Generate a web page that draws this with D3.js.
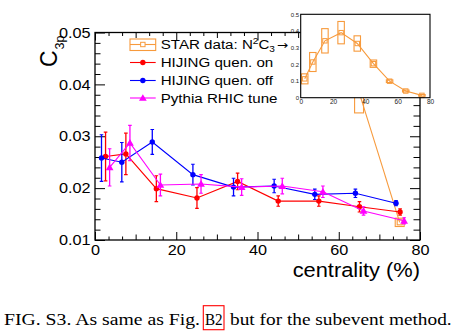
<!DOCTYPE html>
<html>
<head>
<meta charset="utf-8">
<title>C3p vs centrality, subevent method</title>
<style>
    body { margin: 0; background: #fff; }
    svg text { font-family: "Liberation Sans", Arial, Helvetica, sans-serif; }
</style>
</head>
<body>
<div id="chart"></div>
<script src="https://d3js.org/d3.v7.min.js"></script>
<script>
// centrality bins (%)
var centrality = [2.5, 7.5, 15, 25, 35, 45, 55, 65, 75];

// model C3p values and their errors
var hijingOn      = [0.0261, 0.0266, 0.0199, 0.0181, 0.0213, 0.0175, 0.0175, 0.0164, 0.0154];
var hijingOnErr   = [0.0047, 0.0040, 0.0025, 0.0020, 0.0016, 0.0010, 0.0010, 0.0010, 0.0006];
var hijingOff     = [0.0258, 0.0250, 0.0289, 0.0226, 0.0202, 0.0204, 0.0188, 0.0190, 0.0171];
var hijingOffErr  = [0.0045, 0.0038, 0.0024, 0.0020, 0.0017, 0.0013, 0.0010, 0.0008, 0.0005];
var pythia        = [0.0240, 0.0287, 0.0206, 0.0208, 0.0202, 0.0204, 0.0193, 0.0156, 0.0137];
var pythiaErr     = [0.0036, 0.0034, 0.0021, 0.0018, 0.0016, 0.0015, 0.0011, 0.0008, 0.0006];

// STAR N^2 C3 (inset)
var starN2C3      = [0.113, 0.214, 0.341, 0.390, 0.325, 0.204, 0.099, 0.040, 0.014];
var starN2C3Err   = [0.030, 0.057, 0.073, 0.067, 0.046, 0.022, 0.008, 0.006, 0.005];

// STAR C3p: only the peripheral bins fall inside the main y range
var starCent      = [65, 75];
var starC3        = [0.0385, 0.0134];
var starC3Err     = [0.0040, 0.0008];

var xTicks = [0, 20, 40, 60, 80];
var yTicks = [0.01, 0.02, 0.03, 0.04, 0.05];
var insetXTicks = [0, 20, 40, 60, 80];
var insetYTicks = [0, 0.1, 0.2, 0.3, 0.4, 0.5];

var W = 459, H = 331;
var sx = 1.12;               // text is a bit wide in this figure
var orange = "#f79a3c";

var svg = d3.select("#chart").append("svg")
    .attr("width", W).attr("height", H);
svg.append("rect").attr("width", W).attr("height", H).attr("fill", "#fff");

var x = d3.scaleLinear().domain([0, 80]).range([95, 420]);
var y = d3.scaleLinear().domain([0.01, 0.05]).range([240, 32.5]);

svg.append("clipPath").attr("id", "plotClip")
    .append("rect").attr("x", 95).attr("y", 32.5).attr("width", 325).attr("height", 207.5);

// ---- axes ----
function styleAxis(g, fs) {
    g.select(".domain").remove();
    g.attr("font-family", "Liberation Sans, Arial, sans-serif").attr("font-size", fs);
    g.selectAll(".tick line").attr("stroke", "#000").attr("stroke-width", 1);
    g.selectAll(".tick text").attr("fill", "#000").attr("transform", "scale(" + sx + ",1)");
}

var xMinor = [], xMid = [];
for (var i = 1; i < 24; i++) {
    if (i % 6 === 0) continue;
    (i % 3 === 0 ? xMid : xMinor).push(i * 20 / 6);
}
var yMinor = [];
for (var j = 1; j < 20; j++) { if (j % 5 !== 0) yMinor.push(0.01 + j * 0.002); }

var axes = svg.append("g");
axes.append("g").attr("transform", "translate(0,240)")
    .call(d3.axisBottom(x).tickValues(xTicks).tickSize(-8).tickPadding(5).tickFormat(d3.format("d")))
    .call(styleAxis, 14.5);
axes.append("g").attr("transform", "translate(0,240)")
    .call(d3.axisBottom(x).tickValues(xMid).tickSize(-5.5).tickFormat(""))
    .call(styleAxis, 14.5);
axes.append("g").attr("transform", "translate(0,240)")
    .call(d3.axisBottom(x).tickValues(xMinor).tickSize(-3.5).tickFormat(""))
    .call(styleAxis, 14.5);
axes.append("g").attr("transform", "translate(0,32.5)")
    .call(d3.axisTop(x).tickValues(xTicks).tickSize(-8).tickFormat(""))
    .call(styleAxis, 14.5);
axes.append("g").attr("transform", "translate(0,32.5)")
    .call(d3.axisTop(x).tickValues(xMid).tickSize(-5.5).tickFormat(""))
    .call(styleAxis, 14.5);
axes.append("g").attr("transform", "translate(0,32.5)")
    .call(d3.axisTop(x).tickValues(xMinor).tickSize(-3.5).tickFormat(""))
    .call(styleAxis, 14.5);

axes.append("g").attr("transform", "translate(95,0)")
    .call(d3.axisLeft(y).tickValues(yTicks).tickSize(-10).tickPadding(4).tickFormat(d3.format(".2f")))
    .call(styleAxis, 14.5);
axes.append("g").attr("transform", "translate(95,0)")
    .call(d3.axisLeft(y).tickValues(yMinor).tickSize(-5.5).tickFormat(""))
    .call(styleAxis, 14.5);
axes.append("g").attr("transform", "translate(420,0)")
    .call(d3.axisRight(y).tickValues(yTicks).tickSize(-10).tickFormat(""))
    .call(styleAxis, 14.5);
axes.append("g").attr("transform", "translate(420,0)")
    .call(d3.axisRight(y).tickValues(yMinor).tickSize(-6.5).tickFormat(""))
    .call(styleAxis, 14.5);

// ---- model series ----
var series = [
    { name: "HIJING quen. on",  values: hijingOn,  err: hijingOnErr,  color: "#ff0000", shape: "circle",   shift: 0.1 },
    { name: "HIJING quen. off", values: hijingOff, err: hijingOffErr, color: "#0000ff", shape: "circle",   shift: -0.9 },
    { name: "Pythia RHIC tune", values: pythia,    err: pythiaErr,    color: "#ff00ff", shape: "triangle", shift: 1.1 }
];

var plot = svg.append("g").attr("clip-path", "url(#plotClip)");

function marker(g, shape, color, px, py) {
    if (shape === "circle") {
        g.append("circle").attr("cx", px).attr("cy", py).attr("r", 2.7).attr("fill", color);
    } else {
        g.append("path").attr("d", d3.symbol(d3.symbolTriangle, 26)())
            .attr("transform", "translate(" + px + "," + (py + 0.6) + ")").attr("fill", color);
    }
}

// STAR C3p in the main frame
var starLine = d3.line().x(function (d, k) { return x(starCent[k]); }).y(function (d) { return y(d); });
plot.append("path").datum(starC3).attr("d", starLine)
    .attr("fill", "none").attr("stroke", orange).attr("stroke-width", 1.1);
starC3.forEach(function (v, k) {
    var c = starCent[k];
    plot.append("rect").attr("x", x(c - 1.1)).attr("y", y(v + starC3Err[k]))
        .attr("width", x(c + 1.1) - x(c - 1.1)).attr("height", y(v - starC3Err[k]) - y(v + starC3Err[k]))
        .attr("fill", "none").attr("stroke", orange).attr("stroke-width", 1.1);
    plot.append("rect").attr("x", x(c) - 2.5).attr("y", y(v) - 2.5).attr("width", 5).attr("height", 5)
        .attr("fill", "none").attr("stroke", orange).attr("stroke-width", 1.1);
});

series.forEach(function (s) {
    var g = plot.append("g");
    var line = d3.line()
        .x(function (d, k) { return x(centrality[k] + s.shift); })
        .y(function (d) { return y(d); });
    g.append("path").datum(s.values).attr("d", line)
        .attr("fill", "none").attr("stroke", s.color).attr("stroke-width", 1.1);
    s.values.forEach(function (v, k) {
        var px = x(centrality[k] + s.shift);
        var y0 = y(v - s.err[k]), y1 = y(v + s.err[k]);
        g.append("line").attr("x1", px).attr("x2", px).attr("y1", y0).attr("y2", y1)
            .attr("stroke", s.color).attr("stroke-width", 1.3);
        [y0, y1].forEach(function (yy) {
            g.append("line").attr("x1", px - 1.8).attr("x2", px + 1.8).attr("y1", yy).attr("y2", yy)
                .attr("stroke", s.color).attr("stroke-width", 1.1);
        });
        marker(g, s.shape, s.color, px, y(v));
    });
});

// frame
svg.append("rect").attr("x", 95).attr("y", 32.5).attr("width", 325).attr("height", 207.5)
    .attr("fill", "none").attr("stroke", "#000").attr("stroke-width", 1.3);

// ---- axis titles ----
svg.append("text").attr("transform", "translate(420,277) scale(" + sx + ",1)")
    .attr("text-anchor", "end").attr("font-size", 19.5).text("centrality (%)");

var yl = svg.append("text").attr("transform", "translate(57,67) rotate(-90)")
    .attr("font-size", 23);
yl.append("tspan").text("C");
yl.append("tspan").attr("font-size", 12.5).attr("dx", 1).attr("dy", 7).text("3p");

// ---- legend ----
var legX0 = 130, legX1 = 155.7, legTx = 160.7;
var legRows = [44.5, 62.5, 80.5, 98];

var leg = svg.append("g");
leg.append("rect").attr("x", legX0).attr("y", legRows[0] - 5.5).attr("width", legX1 - legX0).attr("height", 11.5)
    .attr("fill", "none").attr("stroke", orange).attr("stroke-width", 1.1);
leg.append("line").attr("x1", legX0).attr("x2", legX1).attr("y1", legRows[0]).attr("y2", legRows[0])
    .attr("stroke", orange).attr("stroke-width", 1.1);
leg.append("rect").attr("x", (legX0 + legX1) / 2 - 2.2).attr("y", legRows[0] - 2.2).attr("width", 4.4).attr("height", 4.4)
    .attr("fill", "#fff").attr("stroke", orange).attr("stroke-width", 1);

var t0 = leg.append("text").attr("transform", "translate(" + legTx + "," + (legRows[0] + 4.8) + ") scale(" + sx + ",1)")
    .attr("font-size", 13.5);
t0.append("tspan").text("STAR data: N");
t0.append("tspan").attr("font-size", 9).attr("dy", -5.5).text("2");
t0.append("tspan").attr("dy", 5.5).text("C");
t0.append("tspan").attr("font-size", 9).attr("dy", 3).text("3");
t0.append("tspan").attr("dx", 1.5).attr("dy", -3).attr("font-size", 12)
    .attr("font-family", "DejaVu Sans").text("\u2192");

series.forEach(function (s, k) {
    var cy = legRows[k + 1];
    leg.append("line").attr("x1", legX0).attr("x2", legX1).attr("y1", cy).attr("y2", cy)
        .attr("stroke", s.color).attr("stroke-width", 1.1);
    marker(leg, s.shape, s.color, (legX0 + legX1) / 2, cy);
    leg.append("text").attr("transform", "translate(" + legTx + "," + (cy + 4.8) + ") scale(" + sx + ",1)")
        .attr("font-size", 13.5).text(s.name);
});

// ---- inset: STAR N^2 C3 ----
var ix = d3.scaleLinear().domain([0, 80]).range([300.7, 430]);
var iy = d3.scaleLinear().domain([0, 0.5]).range([97.7, 14.3]);

var inset = svg.append("g");
inset.append("rect").attr("x", 300.7).attr("y", 14.3).attr("width", 129.3).attr("height", 83.4)
    .attr("fill", "#fff");

inset.append("g").attr("transform", "translate(300.7,0)")
    .call(d3.axisLeft(iy).tickValues(insetYTicks).tickSize(0).tickPadding(1.5)
        .tickFormat(function (d) { return d === 0 ? "0" : d3.format(".1f")(d); }))
    .call(function (g) {
        g.select(".domain").remove();
        g.attr("font-size", 6).attr("font-family", "Liberation Sans, Arial, sans-serif");
        g.selectAll("text").attr("fill", "#222");
    });
inset.append("g").attr("transform", "translate(0,97.7)")
    .call(d3.axisBottom(ix).tickValues(insetXTicks).tickSize(0).tickPadding(2)
        .tickFormat(d3.format("d")))
    .call(function (g) {
        g.select(".domain").remove();
        g.attr("font-size", 6.5).attr("font-family", "Liberation Sans, Arial, sans-serif");
        g.selectAll("text").attr("fill", "#222");
    });

var insetLine = d3.line()
    .x(function (d, k) { return ix(centrality[k]); })
    .y(function (d) { return iy(d); });
inset.append("path").datum(starN2C3).attr("d", insetLine)
    .attr("fill", "none").attr("stroke", orange).attr("stroke-width", 1.1);
starN2C3.forEach(function (v, k) {
    var c = centrality[k];
    inset.append("rect").attr("x", ix(c - 2)).attr("y", iy(v + starN2C3Err[k]))
        .attr("width", ix(c + 2) - ix(c - 2)).attr("height", iy(v - starN2C3Err[k]) - iy(v + starN2C3Err[k]))
        .attr("fill", "none").attr("stroke", orange).attr("stroke-width", 1.1);
    inset.append("rect").attr("x", ix(c) - 2.2).attr("y", iy(v) - 2.2).attr("width", 4.4).attr("height", 4.4)
        .attr("fill", "none").attr("stroke", orange).attr("stroke-width", 1);
});
inset.append("rect").attr("x", 300.7).attr("y", 14.3).attr("width", 129.3).attr("height", 83.4)
    .attr("fill", "none").attr("stroke", "#000").attr("stroke-width", 1.1);

// ---- caption ----
var cap = svg.append("g").attr("font-family", "Liberation Serif, Times New Roman, serif").attr("font-size", 16.5);
cap.append("text").attr("x", 4).attr("y", 324.5).attr("textLength", 196).attr("lengthAdjust", "spacingAndGlyphs")
    .style("font-family", "Liberation Serif, serif").text("FIG. S3. As same as Fig.");
cap.append("text").attr("x", 205).attr("y", 324.5).attr("textLength", 17.7).attr("lengthAdjust", "spacingAndGlyphs")
    .style("font-family", "Liberation Serif, serif").text("B2");
cap.append("text").attr("x", 230).attr("y", 324.5).attr("textLength", 221.7).attr("lengthAdjust", "spacingAndGlyphs")
    .style("font-family", "Liberation Serif, serif").text("but for the subevent method.");
cap.append("rect").attr("x", 203.3).attr("y", 305.7).attr("width", 20.7).attr("height", 24)
    .attr("fill", "none").attr("stroke", "#ff0000").attr("stroke-width", 1.1);
</script>
</body>
</html>
